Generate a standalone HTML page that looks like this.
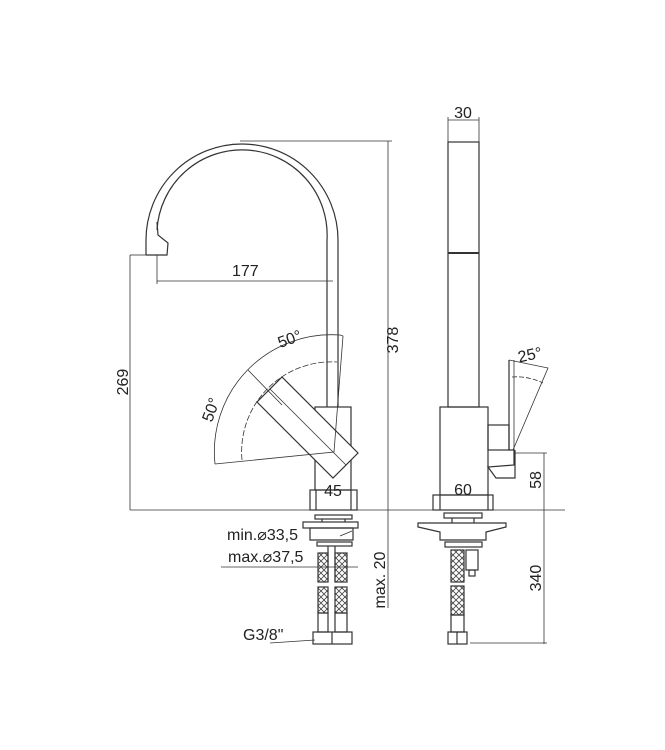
<!DOCTYPE html>
<html><head><meta charset="utf-8"><style>
html,body{margin:0;padding:0;background:#fff}
svg{display:block}
text{font-family:"Liberation Sans","DejaVu Sans",sans-serif;fill:#222;font-size:16px}
</style></head><body>
<svg width="665" height="750" viewBox="0 0 665 750" xmlns="http://www.w3.org/2000/svg">
<defs>
<pattern id="h" width="6" height="6" patternUnits="userSpaceOnUse">
<path d="M0 0L6 6M6 0L0 6" stroke="#444" stroke-width="0.8"/>
</pattern>
</defs>
<g fill="none" stroke="#333" stroke-width="1.2">
<!-- LEFT VIEW spout -->
<path d="M146 255 L146 240 A96 96 0 0 1 338 240 L338 407"/>
<path d="M157 230 A85 85 0 0 1 327 240 L327 407"/>
<path d="M157 222 L158 235 L168 243 L167 255 L146 255"/>
<!-- body -->
<rect x="315" y="407" width="36" height="83"/>
<rect x="310" y="490" width="47" height="20"/>
<line x1="316" y1="490" x2="316" y2="510"/><line x1="351" y1="490" x2="351" y2="510"/>
<!-- handle -->
<polygon points="282,377 358,453 333,478 257,402" fill="#fff"/>
<line x1="270" y1="389" x2="346" y2="465" stroke-width="0.8"/>
<!-- angle arcs -->
<path d="M215 464 A117 117 0 0 1 340 335 L343 336 L334 452 L215 464" stroke-width="0.8"/>
<path d="M242 460 A90 90 0 0 1 337 362" stroke-width="0.8" stroke-dasharray="6,2"/>
<line x1="248" y1="370" x2="282" y2="405" stroke-width="0.8"/>
<!-- dims left -->
<g stroke-width="0.8">
<line x1="240" y1="141" x2="392" y2="141"/>
<line x1="388" y1="141" x2="388" y2="608"/>
<line x1="130" y1="510" x2="565" y2="510"/>
<line x1="130" y1="255" x2="146" y2="255"/>
<line x1="130" y1="255" x2="130" y2="510"/>
<line x1="157" y1="255" x2="157" y2="284"/>
<line x1="157" y1="281" x2="333" y2="281"/>
<line x1="221" y1="567" x2="358" y2="567"/>
<line x1="270" y1="643" x2="315" y2="640"/>
</g>
<!-- left mounting -->
<rect x="315" y="515" width="37" height="4"/>
<line x1="322" y1="519" x2="322" y2="522"/><line x1="345" y1="519" x2="345" y2="522"/>
<rect x="303" y="522" width="55" height="6"/>
<polygon points="310,528 353,528 353,540 310,540"/>
<line x1="340" y1="536" x2="352" y2="531" stroke-width="0.8"/>
<rect x="317" y="542" width="35" height="4"/>
<line x1="328" y1="546" x2="328" y2="582"/><line x1="335" y1="546" x2="335" y2="582"/>
<rect x="318" y="553" width="10" height="29" fill="url(#h)"/>
<rect x="335" y="553" width="12" height="29" fill="url(#h)"/>
<rect x="318" y="587" width="10" height="26" fill="url(#h)"/>
<rect x="335" y="587" width="12" height="26" fill="url(#h)"/>
<rect x="318" y="613" width="10" height="19"/>
<rect x="335" y="613" width="12" height="19"/>
<rect x="313" y="632" width="39" height="12"/>
<line x1="332" y1="632" x2="332" y2="644"/>

<!-- RIGHT VIEW -->
<rect x="448" y="142" width="31" height="265"/>
<line x1="448" y1="253" x2="479" y2="253" stroke-width="2"/>
<rect x="440" y="407" width="48" height="88"/>
<rect x="433" y="495" width="60" height="15"/>
<line x1="440" y1="495" x2="440" y2="510"/><line x1="488" y1="495" x2="488" y2="510"/>
<rect x="488" y="425" width="21" height="25"/>
<path d="M509 360 L509 450 L514 450 L514 465 L488 467 L496 478 L515 478 L515 450"/>
<path d="M509 360 L548 368 L513 450" stroke-width="0.8"/>
<path d="M512 377 A60 60 0 0 1 543 383" stroke-width="0.8" stroke-dasharray="5,2"/>
<line x1="514" y1="360" x2="514" y2="450" stroke-width="0.8"/>
<!-- right mounting -->
<rect x="444" y="513" width="38" height="5"/>
<line x1="452" y1="518" x2="452" y2="523"/><line x1="474" y1="518" x2="474" y2="523"/>
<path d="M418 523 L506 523 L506 527 L486 532 L486 540 L440 540 L440 532 L418 527 Z"/>
<rect x="445" y="542" width="37" height="5"/>
<rect x="451" y="550" width="13" height="32" fill="url(#h)"/>
<rect x="451" y="586" width="13" height="29" fill="url(#h)"/>
<rect x="451" y="615" width="13" height="17"/>
<rect x="448" y="632" width="19" height="12"/>
<line x1="457" y1="632" x2="457" y2="644"/>
<rect x="466" y="550" width="12" height="20"/>
<rect x="469" y="570" width="6" height="6"/>
<!-- right dims -->
<g stroke-width="0.8">
<line x1="448" y1="117" x2="448" y2="142"/>
<line x1="479" y1="117" x2="479" y2="142"/>
<line x1="448" y1="120" x2="479" y2="120"/>
<line x1="515" y1="453" x2="547" y2="453"/>
<line x1="544" y1="453" x2="544" y2="644"/>
<line x1="470" y1="643" x2="547" y2="643"/>
</g>
</g>
<!-- labels -->
<text x="232" y="276">177</text>
<text x="394" y="340" transform="rotate(-90 394 340)" text-anchor="middle" dominant-baseline="middle">378</text>
<text x="124" y="382" transform="rotate(-90 124 382)" text-anchor="middle" dominant-baseline="middle">269</text>
<text x="290" y="340" transform="rotate(-20 290 340)" text-anchor="middle" dominant-baseline="middle">50°</text>
<text x="212" y="410" transform="rotate(-70 212 410)" text-anchor="middle" dominant-baseline="middle">50°</text>
<text x="333" y="496" text-anchor="middle">45</text>
<text x="227" y="540">min.⌀33,5</text>
<text x="228" y="562">max.⌀37,5</text>
<text x="381" y="580" transform="rotate(-90 381 580)" text-anchor="middle" dominant-baseline="middle">max. 20</text>
<text x="243" y="640">G3/8"</text>
<text x="463" y="118" text-anchor="middle">30</text>
<text x="531" y="360" transform="rotate(-12 531 360)" text-anchor="middle">25°</text>
<text x="463" y="495" text-anchor="middle">60</text>
<text x="537" y="480" transform="rotate(-90 537 480)" text-anchor="middle" dominant-baseline="middle">58</text>
<text x="537" y="578" transform="rotate(-90 537 578)" text-anchor="middle" dominant-baseline="middle">340</text>
</svg>
</body></html>
